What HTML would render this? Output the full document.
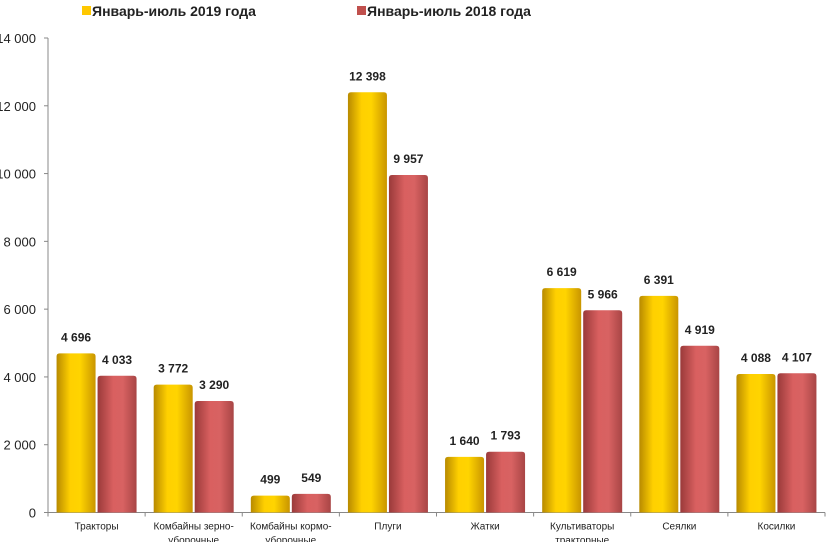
<!DOCTYPE html>
<html><head><meta charset="utf-8"><style>
body{margin:0;background:#fff;width:826px;height:542px;overflow:hidden;font-family:"Liberation Sans",sans-serif}
</style></head><body>
<svg id="c" width="826" height="542">
<defs>
<linearGradient id="gy" x1="0" x2="1"><stop offset="0" stop-color="#b88a00"/><stop offset="0.35" stop-color="#ffd000"/><stop offset="0.6" stop-color="#ffd400"/><stop offset="1" stop-color="#c99500"/></linearGradient>
<linearGradient id="gr" x1="0" x2="1"><stop offset="0" stop-color="#9a3a3a"/><stop offset="0.4" stop-color="#d96060"/><stop offset="0.65" stop-color="#d86262"/><stop offset="1" stop-color="#a84545"/></linearGradient>
</defs>
<g>
<rect x="82" y="6" width="9" height="9" fill="#ffc800"/>
<text x="92" y="16" font-size="14" font-weight="bold" fill="#222">Январь-июль 2019 года</text>
<rect x="357" y="6" width="9" height="9" fill="#c0504d"/>
<text x="367" y="16" font-size="14" font-weight="bold" fill="#222">Январь-июль 2018 года</text>
</g>
<g id="plot"></g>
</svg>
<script>
const categories=[["Тракторы"],["Комбайны зерно-","уборочные"],["Комбайны кормо-","уборочные"],["Плуги"],["Жатки"],["Культиваторы","тракторные"],["Сеялки"],["Косилки"]];
const values2019=[4696,3772,499,12398,1640,6619,6391,4088];
const values2018=[4033,3290,549,9957,1793,5966,4919,4107];
const yTicks=[0,2000,4000,6000,8000,10000,12000,14000];
const X0=48,X1=825,Y0=512.5,Y1=38,YMAX=14000;
const y=v=>Y0-(v/YMAX)*(Y0-Y1);
const bw=(X1-X0)/categories.length;
const x=i=>X0+bw*i;
const fmt=v=>String(v).replace(/\B(?=(\d{3})+(?!\d))/g," ");
const g=document.getElementById('plot');
const NS="http://www.w3.org/2000/svg";
function mk(t,a,p){const e=document.createElementNS(NS,t);for(const k in a)e.setAttribute(k,a[k]);(p||g).appendChild(e);return e;}
const ax=mk('line',{x1:X0,y1:Y1,x2:X0,y2:Y0,stroke:'#888'});


const xa=mk('line',{x1:X0,y1:Y0,x2:X1,y2:Y0,stroke:'#888'});


yTicks.forEach(t=>{
 const tk=mk('line',{x1:X0-4,y1:y(t),x2:X0,y2:y(t),stroke:'#888'});
 
 
 const tl=mk('text',{x:X0-12,y:y(t)+5,'font-size':13,'text-anchor':'end',fill:'#222'});
 tl.textContent=fmt(t);
 
 
});
for(let i=0;i<=categories.length;i++){
 const tk=mk('line',{x1:x(i),y1:Y0,x2:x(i),y2:Y0+4,stroke:'#888'});
 
 
}
categories.forEach((c,i)=>{
 const cx=x(i)+bw/2;
 [[values2019,'url(#gy)',-40,'bar-2019'],[values2018,'url(#gr)',1,'bar-2018']].forEach(([arr,f,off,nm])=>{
  const v=arr[i];const bx=cx+off;
  const r=mk('path',{d:`M${bx},${Y0} L${bx},${y(v)+3} Q${bx},${y(v)} ${bx+3},${y(v)} L${bx+36},${y(v)} Q${bx+39},${y(v)} ${bx+39},${y(v)+3} L${bx+39},${Y0} Z`,fill:f});
  
  
  const l=mk('text',{x:bx+19.5,y:y(v)-12,'font-size':12,'font-weight':'bold','text-anchor':'middle',fill:'#222'});
  l.textContent=fmt(v);
  
  
 });
 c.forEach((line,j)=>{
  const t=mk('text',{x:cx,y:Y0+17+j*14,'font-size':10,'text-anchor':'middle',fill:'#222'});
  t.textContent=line;
  
  
 });
});
</script>
</body></html>
